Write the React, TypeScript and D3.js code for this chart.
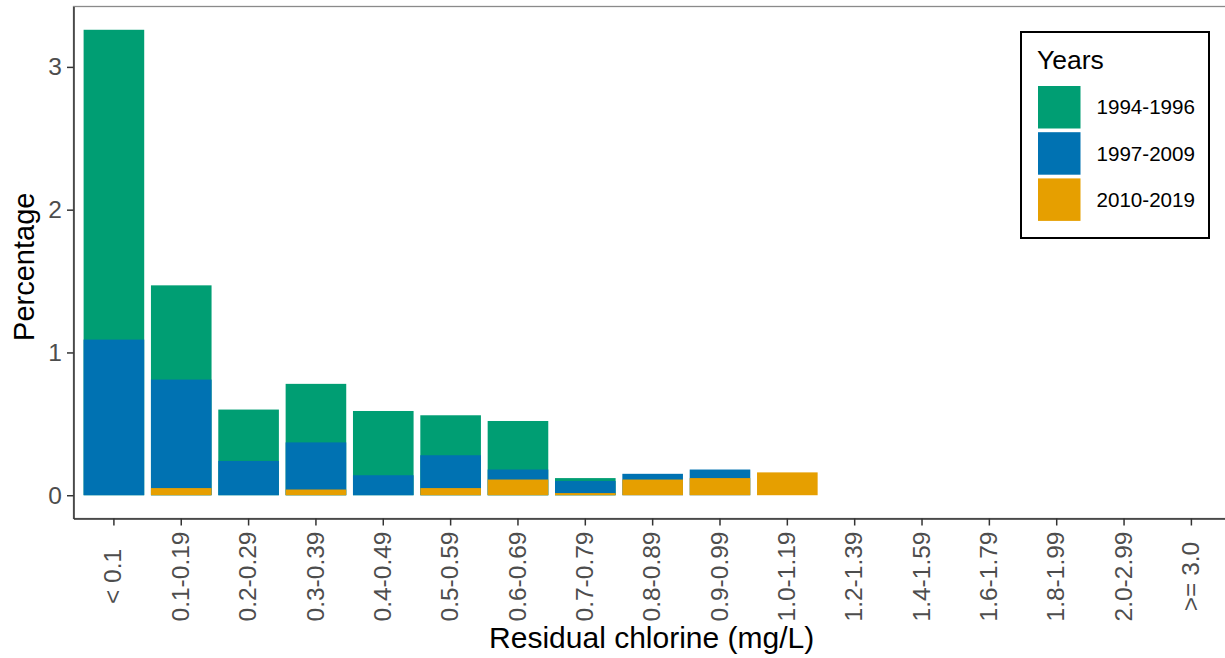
import React, { useEffect, useRef } from "react";
import * as d3 from "d3";

// chlorine classes (x axis)
const categories = [
  "< 0.1", "0.1-0.19", "0.2-0.29", "0.3-0.39", "0.4-0.49", "0.5-0.59",
  "0.6-0.69", "0.7-0.79", "0.8-0.89", "0.9-0.99", "1.0-1.19", "1.2-1.39",
  "1.4-1.59", "1.6-1.79", "1.8-1.99", "2.0-2.99", ">= 3.0",
];

// percentage per period
const years1994 = [3.26, 1.47, 0.6, 0.78, 0.59, 0.56, 0.52, 0.12, 0, 0, 0, 0, 0, 0, 0, 0, 0];
const years1997 = [1.09, 0.81, 0.24, 0.37, 0.14, 0.28, 0.18, 0.1, 0.15, 0.18, 0, 0, 0, 0, 0, 0, 0];
const years2010 = [0, 0.05, 0, 0.04, 0, 0.05, 0.11, 0.015, 0.11, 0.12, 0.16, 0, 0, 0, 0, 0, 0];

const seriesNames = ["1994-1996", "1997-2009", "2010-2019"];
const seriesColors = ["#009E73", "#0072B2", "#E69F00"];
const yTicks = [0, 1, 2, 3];

const App = () => {
  const chartRef = useRef<SVGSVGElement>(null);

  useEffect(() => {
    const width = 1225;
    const height = 658;
    const panel = { left: 73.5, top: 6.5, right: 1231.8, bottom: 518.5 };
    const font = "Liberation Sans, Arial, sans-serif";

    const svg = d3.select(chartRef.current);
    svg.selectAll("*").remove();
    svg.attr("width", width).attr("height", height);

    const series = [years1994, years1997, years2010];
    const maxVal = d3.max(series.flat()) as number;
    const pad = maxVal * 0.05;

    const x = d3
      .scaleBand()
      .domain(categories)
      .range([panel.left, panel.right])
      .paddingInner(0.1)
      .paddingOuter(0.15);

    const y = d3
      .scaleLinear()
      .domain([-pad, maxVal + pad])
      .range([panel.bottom, panel.top]);

    // panel border
    svg
      .append("rect")
      .attr("x", panel.left)
      .attr("y", panel.top)
      .attr("width", panel.right - panel.left)
      .attr("height", panel.bottom - panel.top)
      .attr("fill", "white")
      .attr("stroke", "#8a8a8a")
      .attr("stroke-width", 1.3);

    // bars, drawn on top of each other (older period first)
    series.forEach((vals, si) => {
      svg
        .append("g")
        .selectAll("rect")
        .data(vals.map((v, i) => ({ cat: categories[i], v })).filter((d) => d.v > 0))
        .enter()
        .append("rect")
        .attr("x", (d) => x(d.cat) as number)
        .attr("width", x.bandwidth())
        .attr("y", (d) => y(d.v))
        .attr("height", (d) => y(0) - y(d.v))
        .attr("fill", seriesColors[si]);
    });

    // y axis
    const yAxis = svg
      .append("g")
      .attr("transform", `translate(${panel.left},0)`)
      .call(
        d3.axisLeft(y).tickValues(yTicks).tickFormat(d3.format("d"))
          .tickSize(6.5).tickSizeOuter(0).tickPadding(5)
      );
    yAxis.select(".domain").attr("stroke", "#333").attr("stroke-width", 1.5);
    yAxis.selectAll(".tick line").attr("stroke", "#333").attr("stroke-width", 1.5);
    yAxis
      .selectAll(".tick text")
      .attr("fill", "#4d4d4d")
      .style("font-family", font)
      .style("font-size", "24.5px");

    // x axis
    const xAxis = svg
      .append("g")
      .attr("transform", `translate(0,${panel.bottom})`)
      .call(d3.axisBottom(x).tickSize(7).tickSizeOuter(0));
    xAxis.select(".domain").attr("stroke", "#333").attr("stroke-width", 1.5);
    xAxis.selectAll(".tick line").attr("stroke", "#333").attr("stroke-width", 1.5);
    xAxis
      .selectAll(".tick text")
      .attr("fill", "#4d4d4d")
      .style("font-family", font)
      .style("font-size", "24.5px")
      .attr("y", 0)
      .attr("dy", "0.35em")
      .attr("transform", "translate(-1,58) rotate(-90)")
      .style("text-anchor", "middle");

    // axis titles
    svg
      .append("text")
      .attr("x", (panel.left + panel.right) / 2 - 1)
      .attr("y", 648)
      .attr("text-anchor", "middle")
      .style("font-family", font)
      .style("font-size", "30px")
      .attr("fill", "black")
      .text("Residual chlorine (mg/L)");

    svg
      .append("text")
      .attr("transform", `translate(34,${y(1.6)}) rotate(-90)`)
      .attr("text-anchor", "middle")
      .style("font-family", font)
      .style("font-size", "29px")
      .attr("fill", "black")
      .text("Percentage");

    // legend
    const legend = svg.append("g");
    legend
      .append("rect")
      .attr("x", 1021)
      .attr("y", 32)
      .attr("width", 188)
      .attr("height", 206)
      .attr("fill", "white")
      .attr("stroke", "black")
      .attr("stroke-width", 2);
    legend
      .append("text")
      .attr("x", 1037)
      .attr("y", 69)
      .style("font-family", font)
      .style("font-size", "26.5px")
      .attr("fill", "black")
      .text("Years");
    seriesNames.forEach((name, i) => {
      const top = 86 + i * 46.2;
      legend
        .append("rect")
        .attr("x", 1038)
        .attr("y", top)
        .attr("width", 42.5)
        .attr("height", 42.5)
        .attr("fill", seriesColors[i]);
      legend
        .append("text")
        .attr("x", 1096.5)
        .attr("y", top + 21.25)
        .attr("dy", "0.35em")
        .style("font-family", font)
        .style("font-size", "20.6px")
        .attr("fill", "black")
        .text(name);
    });
  }, []);

  return (
    <svg
      ref={chartRef}
      style={{ position: "absolute", left: 0, top: 0, background: "white" }}
    ></svg>
  );
};

export default App;
